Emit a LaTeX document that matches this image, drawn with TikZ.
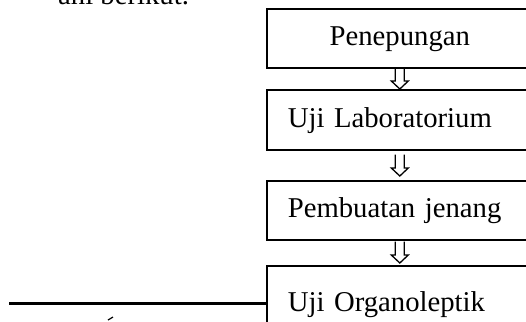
\documentclass[tikz,border=0pt]{standalone}
\usepackage{fontspec}
\setmainfont{Liberation Serif}
\usetikzlibrary{calc}
\newcommand\hollowdown[4]{%
  \draw[arrowline] ($(#1.south)+(-4.5,#3)$) -- ($(#2.north)+(-4.5,-8-#4)$) -- ($(#2.north)+(-8.5,-8-#4)$) -- ($(#2.north)+(0,-#4)$) -- ($(#2.north)+(8.5,-8-#4)$) -- ($(#2.north)+(4.5,-8-#4)$) -- ($(#1.south)+(4.5,#3)$);}
\begin{document}
\begin{tikzpicture}[x=1pt,y=-1pt,
  txt/.style={font=\fontsize{28.7}{34}\selectfont},
  stepbox/.style={txt, draw, line width=1.6pt, minimum width=266pt, anchor=north west,
    inner ysep=0pt, text height=20pt, text depth=5pt},
  leftbox/.style={stepbox, align=left, text width=224pt, inner xsep=21pt},
  centerbox/.style={stepbox, align=center, text width=266pt, inner xsep=0pt},
  arrowline/.style={draw, line width=1.3pt, line join=miter},
  rule/.style={line width=3pt}]
\path[use as bounding box] (0,0) rectangle (526,321);
\clip (0,0) rectangle (526,321);
\node[txt, anchor=base west, inner sep=0pt] (intro) at (58,5) {ani berikut.};
\node[centerbox, minimum height=59pt] (b1) at (266,8) {Penepungan};
\node[leftbox, minimum height=60pt] (b2) at (266,89) {Uji Laboratorium};
\node[leftbox, minimum height=59pt] (b3) at (266,180) {Pembuatan jenang};
\node[leftbox, minimum height=77pt] (b4) at (266,265) {Uji Organoleptik};
\hollowdown{b1}{b2}{0}{0}
\hollowdown{b2}{b3}{4}{4}
\hollowdown{b3}{b4}{1}{2}
\coordinate (rulestart) at (9,303);
\draw[rule] (rulestart) -- (rulestart -| b4.west);
\coordinate (markstart) at (108,320);
\draw[line width=1.2pt] (markstart) -- ++(5,-3);
\end{tikzpicture}
\end{document}
